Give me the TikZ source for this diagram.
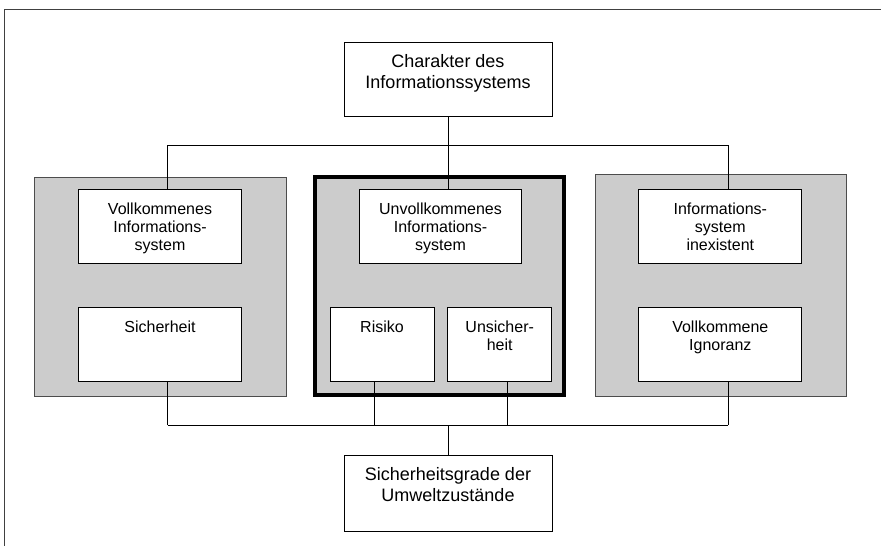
\documentclass[tikz,border=0pt]{standalone}
\usepackage{fontspec}
\setmainfont{Liberation Sans}

\newcommand{\celltext}[3]{\parbox[c][#2pt][t]{#1pt}{\centering\rule{0pt}{25pt}#3}}

\begin{document}
\begin{tikzpicture}[x=1pt,y=-1pt]
        \useasboundingbox (0,0) rectangle (881,546);
        \draw[line width=1.2pt, black!75] (4.5,546) -- (4.5,9.5) -- (881,9.5);

        \begin{scope}[every node/.style={rectangle, draw=black!70, fill=black!20, line width=.8pt, inner sep=0pt}]
          \node[minimum width=252.7, minimum height=218.7] (p1) at (160.3,286.7) {};
          \node[minimum width=249.3, minimum height=217.7, draw=black, line width=4pt] (p2) at (439.3,285.8) {};
          \node[minimum width=251.7, minimum height=221.7] (p3) at (720.8,285.2) {};
        \end{scope}

        \begin{scope}[every node/.style={rectangle, draw, fill=white, line width=1pt, inner sep=0pt, font=\fontsize{18}{21}\selectfont}]
          \node (top) at (448,79)  {\celltext{208}{74}{Charakter des\\Informationssystems}};
          \node (bot) at (448,493) {\celltext{208}{76}{Sicherheitsgrade der\\Umweltzustände}};
        \end{scope}

        \begin{scope}[every node/.style={rectangle, draw, fill=white, line width=1pt, inner sep=0pt, font=\fontsize{16}{18}\selectfont}]
          \node (a1) at (160,226.3)   {\celltext{163}{74}{Vollkommenes\\Informations-\\system}};
          \node (a2) at (440.5,226.3) {\celltext{162}{74}{Unvollkommenes\\Informations-\\system}};
          \node (a3) at (720.3,226.3) {\celltext{163}{74}{Informations-\\system\\inexistent}};
          \node (b1) at (160,344.2)   {\celltext{163}{74}{Sicherheit}};
          \node (b2) at (382,344.2)   {\celltext{104}{74}{Risiko}};
          \node (b3) at (499.7,344.2) {\celltext{104}{74}{Unsicher-\\heit}};
          \node (b4) at (720.3,344.2) {\celltext{163}{74}{Vollkommene\\Ignoranz}};
        \end{scope}

        \coordinate (t1) at (167.5,145);
        \coordinate (t2) at (448,145);
        \coordinate (t3) at (728,145);
        \coordinate (u1) at (167.5,425);
        \coordinate (u2) at (374,425);
        \coordinate (u3) at (448,425);
        \coordinate (u4) at (507,425);
        \coordinate (u5) at (728,425);

        \begin{scope}[line width=1pt]
          \draw (top) -- (t2);
          \draw (t1) -- (t3);
          \draw (t1) -- (t1 |- a1.north);
          \draw (t2) -- (t2 |- a2.north);
          \draw (t3) -- (t3 |- a3.north);
          \draw (u1) -- (u5);
          \draw (u1) -- (u1 |- b1.south);
          \draw (u2) -- (u2 |- b2.south);
          \draw (u4) -- (u4 |- b3.south);
          \draw (u5) -- (u5 |- b4.south);
          \draw (u3) -- (bot);
        \end{scope}

      \end{tikzpicture}
\end{document}
